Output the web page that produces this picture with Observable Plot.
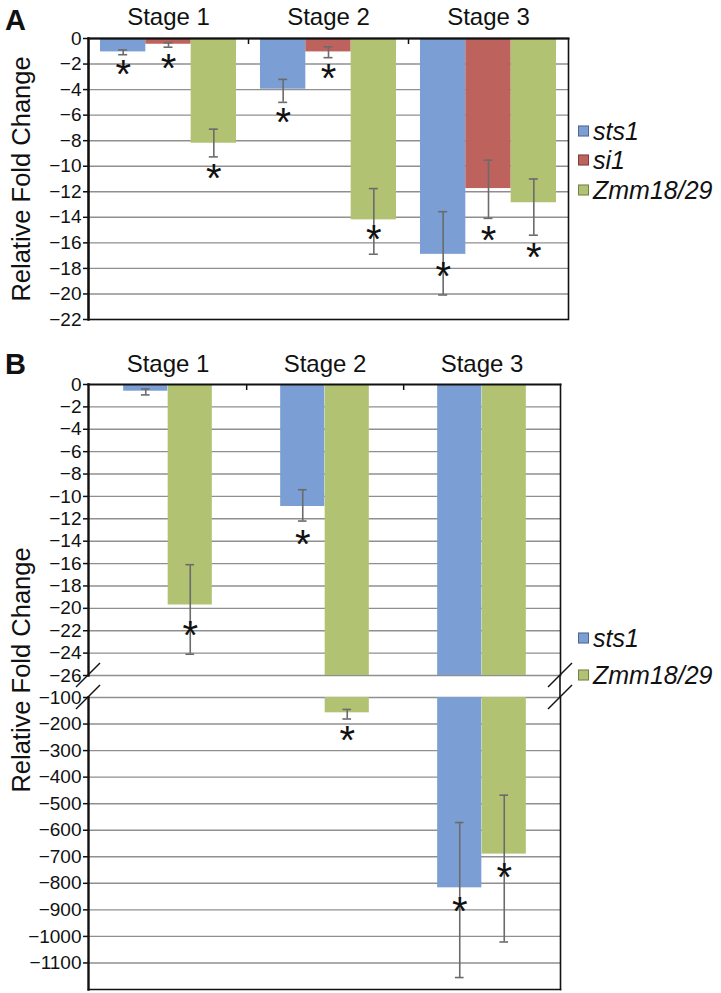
<!DOCTYPE html>
<html><head><meta charset="utf-8">
<script src="https://cdn.jsdelivr.net/npm/d3@7"></script>
<script src="https://cdn.jsdelivr.net/npm/@observablehq/plot@0.6"></script>
<style>
body{margin:0;background:#fff;}
#root{position:relative;width:721px;height:993px;overflow:hidden;font-family:"Liberation Sans",Arial,sans-serif;background:#fff;color:#111;}
.panel{font-weight:bold;font-size:29px;line-height:1;}
.ytitle{font-size:25.5px;line-height:1;white-space:nowrap;transform:translate(-50%,-50%) rotate(-90deg);}
.leg{display:flex;align-items:center;font-style:italic;font-size:25px;line-height:1;white-space:nowrap;transform:translateY(-50%);}
.sw{width:9px;height:9px;margin-right:4px;border:1px solid rgba(0,0,0,0.35);}
</style></head>
<body><div id="root"></div>
<script>
// ---------- data ----------
const stages = ["Stage 1", "Stage 2", "Stage 3"];

// Panel A
const seriesA = ["sts1", "si1", "Zmm18/29"];
const sts1A = [-1.05, -3.97, -16.9];
const si1A = [-0.45, -1.05, -11.75];
const zmmA = [-8.2, -14.2, -12.86];
const sts1A_errHi = [-0.89, -3.2, -13.56];
const sts1A_errLo = [-1.27, -5.0, -20.08];
const si1A_errHi = [-0.33, -0.65, -9.53];
const si1A_errLo = [-0.68, -1.5, -14.08];
const zmmA_errHi = [-7.1, -11.75, -11.0];
const zmmA_errLo = [-9.27, -16.89, -15.4];
const sts1A_star = [-2.1, -5.85, -17.87];
const si1A_star = [-1.57, -2.4, -15.1];
const zmmA_star = [-10.2, -15.0, -16.4];
const ticksA = [0, -2, -4, -6, -8, -10, -12, -14, -16, -18, -20, -22];

// Panel B (broken axis)
const seriesB = ["sts1", "Zmm18/29"];
const sts1B = [-0.6, -10.9, -817];
const zmmB = [-19.7, -157.7, -690];
const sts1B_errHi = [-0.4, -9.4, -571];
const sts1B_errLo = [-0.93, -12.2, -1155];
const zmmB_errHi = [-16.1, -145, -468];
const zmmB_errLo = [-24.1, -181, -1021];
const sts1B_star = [null, -13.45, -870];
const zmmB_star = [-21.6, -225, -744];
const ticksBUpper = [0, -2, -4, -6, -8, -10, -12, -14, -16, -18, -20, -22, -24, -26];
const ticksBLower = [-100, -200, -300, -400, -500, -600, -700, -800, -900, -1000, -1100];

// ---------- styles ----------
const FONT = '"Liberation Sans", Arial, sans-serif';
const colorOf = {"sts1": "#7b9fd5", "si1": "#be625e", "Zmm18/29": "#b1c373"};
const GRID = "#8f8f8f", ERR = "#6b6b6b", INK = "#111";
const STAR_SIZE = 40;
const TICK_FS = 19, STAGE_FS = 24;
const fmt = d => (d < 0 ? "\u2212" : "") + Math.abs(d);

function rowsFor(series, vals, hi, lo, star) {
  const rows = [];
  series.forEach((s, i) => stages.forEach((st, j) => rows.push({
    stage: st, series: s, si: i, value: vals[i][j], hi: hi[i][j], lo: lo[i][j], star: star[i][j]
  })));
  return rows;
}
const rowsA = rowsFor(seriesA, [sts1A, si1A, zmmA],
  [sts1A_errHi, si1A_errHi, zmmA_errHi], [sts1A_errLo, si1A_errLo, zmmA_errLo],
  [sts1A_star, si1A_star, zmmA_star]);
const rowsB = rowsFor(seriesB, [sts1B, zmmB],
  [sts1B_errHi, zmmB_errHi], [sts1B_errLo, zmmB_errLo],
  [sts1B_star, zmmB_star]);

function dataMarks(rows, series, bandW, barW, dom, clip) {
  const [lo, hi] = dom;
  const inDom = v => v != null && v >= lo && v <= hi;
  const pad = (bandW - series.length * barW) / 2;
  const marks = [];
  series.forEach((s, i) => {
    const r = rows.filter(d => d.si === i);
    marks.push(Plot.barY(r, {x: "stage", y: "value", fill: colorOf[s],
      insetLeft: pad + i * barW, insetRight: bandW - pad - (i + 1) * barW, clip}));
  });
  series.forEach((s, i) => {
    const r = rows.filter(d => d.si === i);
    const c = pad + (i + 0.5) * barW; // center inside band
    const re = r.filter(d => !(d.hi < lo || d.lo > hi));
    marks.push(Plot.ruleX(re, {x: "stage", y1: "hi", y2: "lo", dx: c - bandW / 2, stroke: ERR, strokeWidth: 1.6, clip}));
    for (const k of ["hi", "lo"]) {
      marks.push(Plot.tickY(r.filter(d => inDom(d[k])), {x: "stage", y: k, insetLeft: c - 4.5, insetRight: bandW - c - 4.5, stroke: ERR, strokeWidth: 1.6}));
    }
    marks.push(Plot.text(r.filter(d => inDom(d.star)), {x: "stage", y: "star", text: () => "*",
      dx: c - bandW / 2, dy: 0.255 * STAR_SIZE, fontSize: STAR_SIZE, fill: INK}));
  });
  return marks;
}

const root = document.getElementById("root");
function place(el, left, top) { el.style.position = "absolute"; el.style.left = left + "px"; el.style.top = top + "px"; root.appendChild(el); return el; }

const W = 721;
const baseStyle = {fontFamily: FONT, fontSize: TICK_FS + "px", color: INK, background: "transparent", overflow: "visible"};
// ---------- Panel A ----------
{
  const mL = 88, mR = 153, mT = 38, h = 330, mB = h - 319;
  const bandW = (W - mL - mR) / stages.length;
  const dom = [-22, 0];
  const plot = Plot.plot({
    width: W, height: h, marginLeft: mL, marginRight: mR, marginTop: mT, marginBottom: mB,
    style: baseStyle,
    x: {type: "band", domain: stages, padding: 0},
    y: {domain: dom},
    marks: [
      Plot.ruleY(ticksA.slice(1, -1), {stroke: GRID, strokeWidth: 1.4}),
      ...dataMarks(rowsA, seriesA, bandW, 45.33, dom, false),
      Plot.frame({stroke: INK, strokeWidth: 1.6}),
      Plot.frame({anchor: "left", stroke: INK, strokeWidth: 2.4}),
      Plot.frame({anchor: "top", stroke: INK, strokeWidth: 2}),
      Plot.axisY({ticks: ticksA, tickFormat: fmt, tickSize: 5, tickPadding: 2, label: null, strokeWidth: 1.5}),
      Plot.axisX({anchor: "top", tickSize: 0, tickPadding: 14, fontSize: STAGE_FS, label: null}),
      Plot.axisX({anchor: "top", ticks: stages.slice(0, -1), tickSize: -5, tickFormat: () => "", dx: bandW / 2, label: null, strokeWidth: 1.5})
    ]
  });
  place(plot, 0, 0);
}

// ---------- Panel B (two stacked plots forming a broken axis) ----------
let yU, yL;
const bL = 88, bR = 161;
const topU = 330, topL = 680;
{
  const h = 350, mT = 54, mB = 5;
  const bandW = (W - bL - bR) / stages.length;
  const dom = [-26, 0];
  const plot = Plot.plot({
    width: W, height: h, marginLeft: bL, marginRight: bR, marginTop: mT, marginBottom: mB,
    style: baseStyle,
    x: {type: "band", domain: stages, padding: 0},
    y: {domain: dom},
    marks: [
      Plot.ruleY(ticksBUpper.slice(1), {stroke: GRID, strokeWidth: 1.4}),
      ...dataMarks(rowsB, seriesB, bandW, 44.5, dom, true),
      Plot.frame({anchor: "right", stroke: INK, strokeWidth: 1.6}),
      Plot.frame({anchor: "left", stroke: INK, strokeWidth: 2.4}),
      Plot.frame({anchor: "top", stroke: INK, strokeWidth: 2}),
      Plot.axisY({ticks: ticksBUpper, tickFormat: fmt, tickSize: 5, tickPadding: 2, label: null, strokeWidth: 1.5}),
      Plot.axisX({anchor: "top", tickSize: 0, tickPadding: 13, fontSize: STAGE_FS, label: null}),
      Plot.axisX({anchor: "top", ticks: stages.slice(0, -1), tickSize: -5, tickFormat: () => "", dx: bandW / 2, label: null, strokeWidth: 1.5})
    ]
  });
  yU = plot.scale("y");
  place(plot, 0, topU);
}
{
  const h = 313, mT = 17, mB = 4;
  const bandW = (W - bL - bR) / stages.length;
  const dom = [-1200, -100];
  const plot = Plot.plot({
    width: W, height: h, marginLeft: bL, marginRight: bR, marginTop: mT, marginBottom: mB,
    style: baseStyle,
    x: {type: "band", domain: stages, padding: 0, axis: null},
    y: {domain: dom},
    marks: [
      Plot.ruleY(ticksBLower, {stroke: GRID, strokeWidth: 1.4}),
      ...dataMarks(rowsB, seriesB, bandW, 44.5, dom, true),
      Plot.frame({anchor: "right", stroke: INK, strokeWidth: 1.6}),
      Plot.frame({anchor: "left", stroke: INK, strokeWidth: 2.4}),
      Plot.frame({anchor: "bottom", stroke: INK, strokeWidth: 1.6}),
      Plot.axisY({ticks: ticksBLower, tickFormat: fmt, tickSize: 5, tickPadding: 2, label: null, strokeWidth: 1.5})
    ]
  });
  yL = plot.scale("y");
  place(plot, 0, topL);
}

// break marks, positioned from the two y scales
{
  const ns = "http://www.w3.org/2000/svg";
  const svg = document.createElementNS(ns, "svg");
  svg.setAttribute("width", W); svg.setAttribute("height", 993);
  svg.style.position = "absolute"; svg.style.left = "0px"; svg.style.top = "0px"; svg.style.pointerEvents = "none";
  const yb1 = topU + yU.apply(-26), yb2 = topL + yL.apply(-100);
  const xr = W - bR;
  const line = (x1, y1, x2, y2, w) => { const l = document.createElementNS(ns, "line");
    l.setAttribute("x1", x1); l.setAttribute("y1", y1); l.setAttribute("x2", x2); l.setAttribute("y2", y2);
    l.setAttribute("stroke", INK); l.setAttribute("stroke-width", w); svg.appendChild(l); };
  line(xr, yb1, xr, yb2, 1.6);
  for (const x of [bL, xr]) for (const y of [yb1, yb2]) line(x - 12, y + 12, x + 12, y - 12, 1.4);
  root.appendChild(svg);
}

// ---------- text around the plots ----------
function div(cls, html) { const d = document.createElement("div"); d.className = cls; d.innerHTML = html; return d; }
place(div("panel", "A"), 5, 6);
place(div("panel", "B"), 5, 350);
place(div("ytitle", "Relative Fold Change"), 22, 179);
place(div("ytitle", "Relative Fold Change"), 22, 670);

function legend(series, x, ys) {
  series.forEach((s, i) => {
    const d = div("leg", `<span class="sw" style="background:${colorOf[s]}"></span><span>${s}</span>`);
    place(d, x, ys[i]);
  });
}
legend(seriesA, 578, [131, 160, 190]);
legend(seriesB, 578, [638, 675]);
</script>
</body></html>
